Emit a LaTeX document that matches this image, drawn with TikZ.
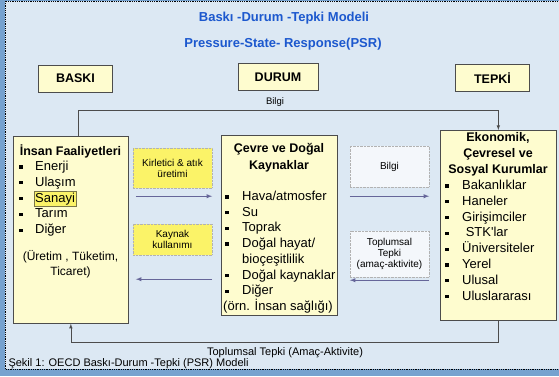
\documentclass[tikz,border=0pt]{standalone}
\usepackage{fontspec}
\setmainfont{Liberation Sans}
\usetikzlibrary{positioning,backgrounds}

\begin{document}
\begin{tikzpicture}[x=1pt,y=-1pt]
  % some colors
  \definecolor{sky}{RGB}{220,232,243}
  \definecolor{rim}{RGB}{118,162,207}
  \definecolor{paper}{RGB}{254,252,207}
  \definecolor{marker}{RGB}{251,243,104}
  \definecolor{pale}{RGB}{244,247,251}
  \definecolor{heading}{RGB}{28,88,206}
  \colorlet{flow}{gray!80!blue}
  \colorlet{edge}{black!70}
  % some styles
  \tikzset{
    stage/.style={
      draw=edge,
      fill=paper,
      line width=.8pt,
      minimum width=74pt,
      minimum height=27pt,
      font=\fontsize{12.5}{14}\selectfont\bfseries,
    },
    panel/.style={draw=edge,fill=paper,line width=.7pt,anchor=north west},
    note/.style={
      draw=black!30,
      densely dotted,
      fill=#1,
      minimum width=79pt,
      align=center,
      font=\fontsize{10}{11}\selectfont,
    },
    head/.style={anchor=base,font=\fontsize{12.5}{15}\selectfont\bfseries},
    textline/.style={anchor=base,font=\fontsize{12}{15}\selectfont},
    item/.style={anchor=base west,inner sep=0pt,font=\fontsize{13}{15}\selectfont},
    marked/.style={item,inner sep=1pt,xshift=-1pt,draw=black!60!yellow,fill=marker},
    dot/.style={fill=black,inner sep=0pt,minimum size=3.2pt},
    flowline/.style={-latex,flow,line width=.9pt},
    link/.style={-latex,edge,line width=.6pt},
    caption/.style={font=\fontsize{11}{13}\selectfont},
  }
  \useasboundingbox (0,0) rectangle (559,376);

  % titles
  \node[font=\fontsize{13}{15}\selectfont\bfseries,text=heading] (title) at (284,18) {Baskı -Durum -Tepki Modeli};
  \node[font=\fontsize{13}{15}\selectfont\bfseries,text=heading] (subtitle) at (283,44) {Pressure-State- Response(PSR)};

  % the three stages
  \node[stage] (baski) at (75.5,78.5) {BASKI};
  \node[stage,minimum width=80pt] (durum) at (278,77) {DURUM};
  \node[stage] (tepki) at (492.5,78) {TEPKİ};

  % big panels
  \node[panel,minimum width=115pt,minimum height=187pt] (insan) at (13,136) {};
  \node[panel,minimum width=116pt,minimum height=180pt] (cevre) at (221,135) {};
  \node[panel,minimum width=116pt,minimum height=190pt] (kurum) at (440,130) {};

  % pressure panel
  \node[head] (insan-head) at (70.5,155) {İnsan Faaliyetleri};
  \foreach \txt/\sty [count=\i] in {Enerji/item,Ulaşım/item,Sanayi/marked,Tarım/item,Diğer/item} {
    \pgfmathsetmacro{\y}{154.7+15.8*\i}
    \node[\sty] (insan-\i) at (35,\y) {\txt};
    \node[dot] (insan-dot-\i) at (21,\y-3.6) {};
  }
  \node[textline] (insan-note-1) at (70.5,260.5) {(Üretim , Tüketim,};
  \node[textline] (insan-note-2) at (70.5,275.5) {Ticaret)};

  % state panel
  \node[head] (cevre-head-1) at (279,152.5) {Çevre ve Doğal};
  \node[head] (cevre-head-2) at (279,169.5) {Kaynaklar};
  \foreach \txt [count=\i] in {Hava/atmosfer,Su,Toprak,Doğal hayat/,bioçeşitlilik,Doğal kaynaklar,Diğer} {
    \pgfmathsetmacro{\y}{184.8+15.7*\i}
    \node[item] (cevre-\i) at (242,\y) {\txt};
    % the wrapped line gets no bullet
    \ifnum\i=5 \else \node[dot] (cevre-dot-\i) at (227,\y-3.6) {}; \fi
  }
  \node[textline,font=\fontsize{13}{15}\selectfont] (cevre-note) at (278,310) {(örn. İnsan sağlığı)};

  % response panel
  \foreach \txt [count=\i] in {{Ekonomik,},Çevresel ve,Sosyal Kurumlar} {
    \node[head] (kurum-head-\i) at (498,124.8+16.3*\i) {\txt};
  }
  \foreach \txt [count=\i] in {Bakanlıklar,Haneler,Girişimciler,\ STK\textquotesingle lar,Üniversiteler,Yerel,Ulusal,Uluslararası} {
    \pgfmathsetmacro{\y}{173.7+15.8*\i}
    \node[item] (kurum-\i) at (462,\y) {\txt};
    \node[dot] (kurum-dot-\i) at (447,\y-3.6) {};
  }

  % notes between the panels
  \node[note=marker,minimum height=40pt] (kirletici) at (172.5,168) {Kirletici \& atık\\üretimi};
  \node[note=marker,minimum height=31pt] (kaynak) at (172.5,239.5) {Kaynak\\kullanımı};
  \node[note=pale,minimum height=41pt] (bilgi) at (389.5,166.5) {Bilgi};
  \node[note=pale,minimum height=46pt] (toplumsal) at (389.5,254) {Toplumsal\\Tepki\\(amaç-aktivite)};
  \draw[flowline] ([xshift=3pt,yshift=-8pt]kirletici.south west) -- ([yshift=-8pt]kirletici.south east);
  \draw[flowline] ([yshift=-24pt]kaynak.south east) -- ([xshift=3pt,yshift=-24pt]kaynak.south west);
  \draw[flowline] ([yshift=-9pt]bilgi.south west) -- ([yshift=-9pt]bilgi.south east);
  \draw[flowline] ([yshift=-3pt]toplumsal.south east) -- ([yshift=-3pt]toplumsal.south west);

  % feedback loops
  \draw[link] ([xshift=7.5pt]insan.north) -- ++(0,-26) -| (kurum.north);
  \node[caption,font=\fontsize{9.5}{11}\selectfont] (bilgi-top) at (275,102) {Bilgi};
  \draw[link] (kurum.south) -- ++(0,22) -| (insan.south);
  \node[caption] (toplumsal-bottom) at (285,353) {Toplumsal Tepki (Amaç-Aktivite)};
  \node[caption,anchor=west] (sekil) at (5,364) {Şekil 1: OECD Baskı-Durum -Tepki (PSR) Modeli};

  \begin{pgfonlayer}{background}
    \fill[rim] (0,0) rectangle (559,376);
    \draw[fill=sky,densely dotted,line width=.8pt] (5,1) rectangle (565,369);
  \end{pgfonlayer}
\end{tikzpicture}
\end{document}
